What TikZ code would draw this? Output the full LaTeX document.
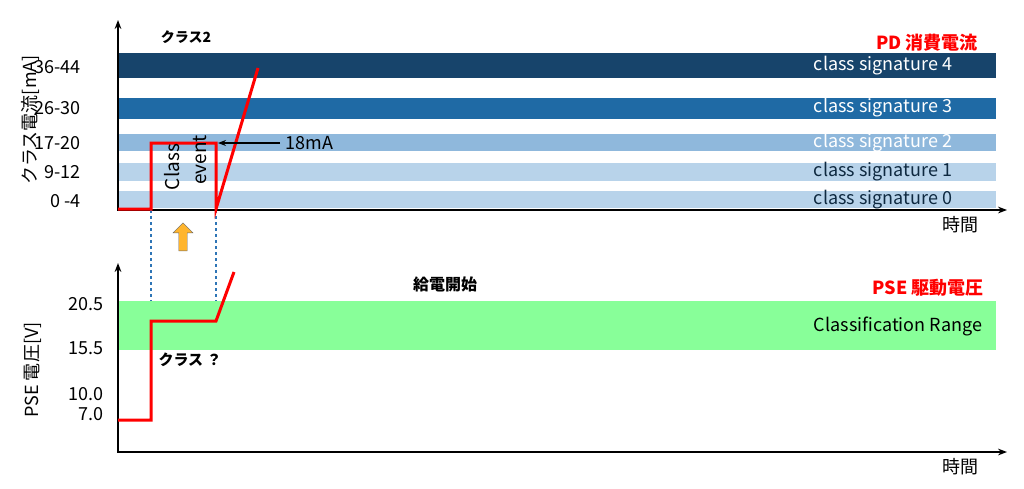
\documentclass[tikz,border=0pt]{standalone}
\usepackage{fontspec}
\setmainfont{Noto Sans CJK JP}
\usetikzlibrary{arrows.meta,shapes.arrows}
\definecolor{b4}{HTML}{17446B}\definecolor{b3}{HTML}{1F6AA5}
\definecolor{b2}{HTML}{8FB8DC}\definecolor{b1}{HTML}{B8D3EA}
\definecolor{grn}{HTML}{88FF99}\definecolor{dsh}{HTML}{2E75B6}
\definecolor{org}{HTML}{FFB52E}
\begin{document}
\begin{tikzpicture}[x=1pt,y=-1pt,font=\fontsize{18}{20}\selectfont,
 band/.style={fill=#1,draw=none},
 blab/.style={text=white,anchor=center},
 ylab/.style={anchor=east},
 ax/.style={line width=2.2pt,-{Stealth[length=9pt]}},
 sig/.style={red,line width=3pt},
 hd/.style={red,font=\fontsize{18}{20}\selectfont\bfseries}]
\useasboundingbox (0,0) rectangle (1024,488);
% top bands
\fill[b4] (118,53) rectangle (996,78);
\fill[b3] (118,98) rectangle (996,119);
\fill[b2] (118,134) rectangle (996,151);
\fill[b1] (118,163) rectangle (996,181);
\fill[b1] (118,191) rectangle (996,208);
\node[blab] at (883,66) {class signature 4};
\node[blab] at (883,108) {class signature 3};
\node[blab] at (883,143) {class signature 2};
\node[text=b4!60!black] at (883,172) {class signature 1};
\node[text=b4!60!black] at (883,200) {class signature 0};
\node[ylab] at (84,67) {36-44};
\node[ylab] at (84,108) {26-30};
\node[ylab] at (84,143) {17-20};
\node[ylab] at (84,172) {9-12};
\node[ylab] at (84,201) {0 -4};
\node[rotate=90] at (30,120) {クラス電流[mA]};
\node[font=\fontsize{14}{16}\selectfont\bfseries] at (186,37) {クラス2};
\node[hd] at (927,43) {PD 消費電流};
\node at (960,225) {時間};
\draw[ax] (118,210) -- (118,20);
\draw[ax] (117,210) -- (1007,210);
% dashed
\draw[dsh,dashed,line width=1.5pt] (151,210) -- (151,320);
\draw[dsh,dashed,line width=1.5pt] (216,210) -- (216,320);
\draw[sig] (118,209) -- (151,209) -- (151,143) -- (216,143) -- (216,209) -- (258,68);
\node[rotate=90,anchor=center,font=\fontsize{19}{20}\selectfont] at (172,167) {Class};
\node[rotate=90,anchor=center,font=\fontsize{19}{20}\selectfont] at (200,160) {event};
\coordinate (a18) at (280,143);
\coordinate (e18) at (218,143);
\draw[-{Stealth[length=8pt]},line width=1.2pt] (a18) -- (e18);
\node[anchor=west] at (282,143) {18mA};
\node[single arrow,rotate=90,fill=org,draw=black!60,minimum height=28pt,minimum width=20pt,single arrow head extend=3pt,inner sep=2pt] at (183,239) {};
% bottom
\fill[grn] (118,301) rectangle (996,350);
\node at (898,326) {Classification Range};
\node[ylab] at (107,304) {20.5};
\node[ylab] at (107,348) {15.5};
\node[ylab] at (107,394) {10.0};
\node[ylab] at (107,414) {7.0};
\node[rotate=90] at (33,370) {PSE 電圧[V]};
\draw[ax] (118,452) -- (118,263);
\draw[ax] (117,452) -- (1007,452);
\draw[sig] (118,420) -- (151,420) -- (151,321) -- (216,321) -- (234,272);
\node[font=\fontsize{16}{18}\selectfont\bfseries] at (445,284) {給電開始};
\node[hd] at (928,288) {PSE 駆動電圧};
\node[anchor=west,font=\fontsize{15}{17}\selectfont\bfseries] at (155,360) {クラス ？};
\node at (960,467) {時間};
\end{tikzpicture}
\end{document}
